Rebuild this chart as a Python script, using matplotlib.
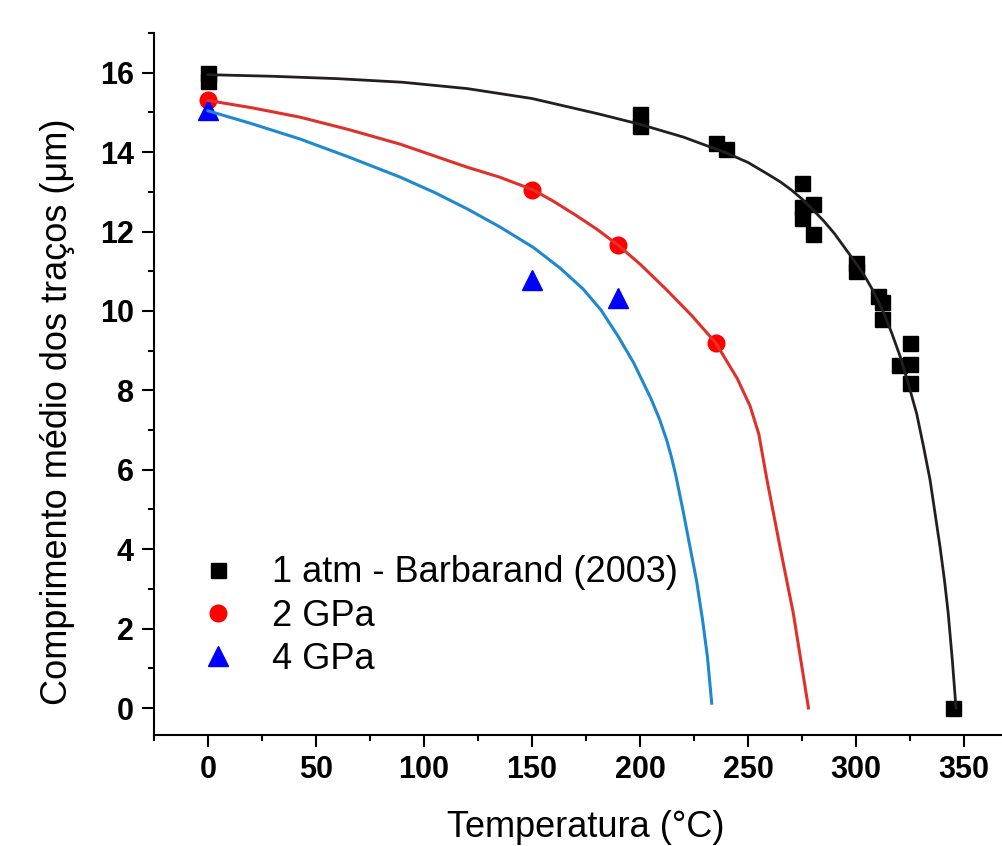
import matplotlib
matplotlib.use('Agg')
import matplotlib.pyplot as plt
from matplotlib.ticker import MultipleLocator

plt.rcParams['font.family'] = ['Liberation Sans', 'DejaVu Sans']

# measured points
t_1atm = [0, 0, 200, 200, 235, 240, 275, 275, 275, 280, 280, 300, 300, 310, 312, 312, 320, 325, 325, 325, 345]
l_1atm = [16.0, 15.8, 14.95, 14.65, 14.22, 14.08, 13.22, 12.62, 12.35, 12.7, 11.95, 11.2, 11.0,
          10.38, 10.22, 9.8, 8.64, 9.18, 8.67, 8.18, 0.0]
t_2gpa = [0, 150, 190, 235]
l_2gpa = [15.3, 13.05, 11.65, 9.2]
t_4gpa = [0, 150, 190]
l_4gpa = [15.05, 10.77, 10.33]

# fitted curves
fit_t_1atm = [0, 30, 60, 90, 120, 150, 181, 200, 220, 240, 250, 259, 265, 270, 275, 280, 285, 290, 296,
              300, 304, 308, 312.6, 316.5, 320.4, 324.2, 328.1, 331.2, 334.3, 336.6, 338.9, 341, 342.7,
              344.6, 346.3]
fit_l_1atm = [15.95, 15.91, 15.85, 15.76, 15.6, 15.35, 14.96, 14.7, 14.38, 13.98, 13.74, 13.45, 13.25,
              13.05, 12.82, 12.55, 12.27, 11.95, 11.5, 11.2, 10.88, 10.5, 9.98, 9.45, 8.86, 8.17, 7.41,
              6.6, 5.74, 4.9, 4.06, 3.2, 2.38, 1.2, 0.0]
fit_t_2gpa = [0, 20, 42.6, 65, 89, 120, 135, 150.5, 160, 170, 180, 190, 200, 212, 224, 235, 245, 251,
              255, 258.6, 264.8, 271, 278]
fit_l_2gpa = [15.3, 15.12, 14.88, 14.57, 14.2, 13.62, 13.37, 13.05, 12.76, 12.42, 12.06, 11.65, 11.18,
              10.55, 9.88, 9.2, 8.3, 7.6, 6.9, 5.8, 4.06, 2.38, 0.0]
fit_t_4gpa = [0, 20, 42.6, 65, 89, 105, 120, 135, 150.6, 163, 173.7, 182, 190, 197, 205, 209,
              212.4, 214.5, 216.5, 220, 223, 226.2, 229, 231.2, 233.2]
fit_l_4gpa = [15.04, 14.72, 14.33, 13.88, 13.37, 12.98, 12.57, 12.12, 11.6, 11.08, 10.55, 10.02, 9.35,
              8.7, 7.8, 7.28, 6.74, 6.33, 5.88, 4.95, 4.1, 3.2, 2.2, 1.3, 0.12]

fig = plt.figure(figsize=(10.02, 8.46), dpi=100)
ax = fig.add_axes([154 / 1002, 111 / 846, 864 / 1002, 702 / 846])

ax.plot(t_1atm, l_1atm, 's', color='black', ms=10.8, mec='black', label='1 atm - Barbarand (2003)', zorder=2)
ax.plot(t_2gpa, l_2gpa, 'o', color='#ff0000', ms=12, mec='#ff0000', label='2 GPa', zorder=2)
ax.plot(t_4gpa, l_4gpa, '^', color='#0000ff', ms=14, mec='#0000ff', label='4 GPa', zorder=2)

ax.plot(fit_t_1atm, fit_l_1atm, '-', color='#231f20', lw=2.0, zorder=3, solid_joinstyle='round')
ax.plot(fit_t_2gpa, fit_l_2gpa, '-', color='#e0302a', lw=2.2, zorder=3, solid_joinstyle='round')
ax.plot(fit_t_4gpa, fit_l_4gpa, '-', color='#1e88d0', lw=2.2, zorder=3, solid_joinstyle='round')

ax.set_xlim(-25, 375)
ax.set_ylim(-0.68, 17)
ax.xaxis.set_major_locator(MultipleLocator(50))
ax.xaxis.set_minor_locator(MultipleLocator(25))
ax.yaxis.set_major_locator(MultipleLocator(2))
ax.yaxis.set_minor_locator(MultipleLocator(1))

for s in ['top', 'right']:
    ax.spines[s].set_visible(False)
for s in ['left', 'bottom']:
    ax.spines[s].set_linewidth(1.5)

ax.tick_params(which='major', direction='out', length=8.6, width=1.5, labelsize=22, pad=6)
ax.tick_params(which='minor', direction='out', length=4.3, width=1.5)
for lab in ax.get_xticklabels() + ax.get_yticklabels():
    lab.set_fontweight('bold')

ax.set_xlabel('Temperatura (°C)', fontsize=26, labelpad=18)
ax.set_ylabel('Comprimento médio dos traços (μm)', fontsize=26)
ax.yaxis.set_label_coords(-0.091, 0.46)

ax.legend(loc='upper left', bbox_to_anchor=(0.053, 0.256), frameon=False, fontsize=26,
          handlelength=1.0, handletextpad=1.0, labelspacing=0.23, borderpad=0, borderaxespad=0,
          numpoints=1)

fig.savefig('out.png', dpi=100)
